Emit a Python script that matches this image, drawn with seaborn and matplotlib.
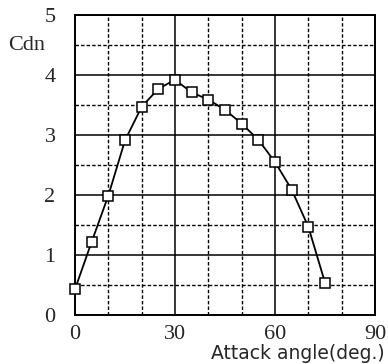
import matplotlib
matplotlib.use("Agg")
import matplotlib.pyplot as plt
import seaborn as sns
import pandas as pd
from matplotlib.ticker import MultipleLocator

attack_angle = [0, 5, 10, 15, 20, 25, 30, 35, 40, 45, 50, 55, 60, 65, 70, 75]
cdn = [0.43, 1.22, 1.99, 2.91, 3.47, 3.77, 3.92, 3.71, 3.59, 3.42, 3.19, 2.92, 2.55, 2.09, 1.47, 0.54]
x_ticks = [0, 30, 60, 90]
y_ticks = [0, 1, 2, 3, 4, 5]

df = pd.DataFrame({"angle": attack_angle, "cdn": cdn})

sns.set_style("white")
plt.rcParams['font.family'] = ['Liberation Serif', 'DejaVu Serif']

fig = plt.figure(figsize=(3.88, 3.64), dpi=100)
ax = fig.add_axes([75/388, 49/364, 300/388, 300/364])

ax.set_xlim(0, 90)
ax.set_ylim(0, 5)
ax.xaxis.set_major_locator(MultipleLocator(30))
ax.xaxis.set_minor_locator(MultipleLocator(10))
ax.yaxis.set_major_locator(MultipleLocator(1))
ax.yaxis.set_minor_locator(MultipleLocator(0.5))
ax.grid(which='major', color='black', linewidth=1.1, linestyle='-')
ax.grid(which='minor', color='black', linewidth=1.0, linestyle=(0, (2.5, 1.5)))
ax.set_axisbelow(True)

sns.lineplot(data=df, x="angle", y="cdn", ax=ax, color='black', linewidth=1.3,
             marker='s', markersize=7, markerfacecolor='white',
             markeredgecolor='black', markeredgewidth=1.1, zorder=5, clip_on=False)

ax.set_xticks(x_ticks)
ax.set_yticks(y_ticks)
ax.tick_params(which='both', length=0)
ax.tick_params(axis='x', pad=7, labelsize=16)
ax.tick_params(axis='y', pad=14, labelsize=16)
ax.set_xlabel("")
ax.set_ylabel("")
for s in ax.spines.values():
    s.set_visible(True)
    s.set_color('black')
    s.set_linewidth(1.4)

fig.text(8/388, 1 - 46/364, "Cdn", fontsize=16, ha='left', va='center')
fig.text(385/388, 1 - 359/364, "Attack angle(deg.)", fontsize=13.5, ha='right', va='baseline',
         family=['DejaVu Sans'])

fig.savefig("out.png", dpi=100)
